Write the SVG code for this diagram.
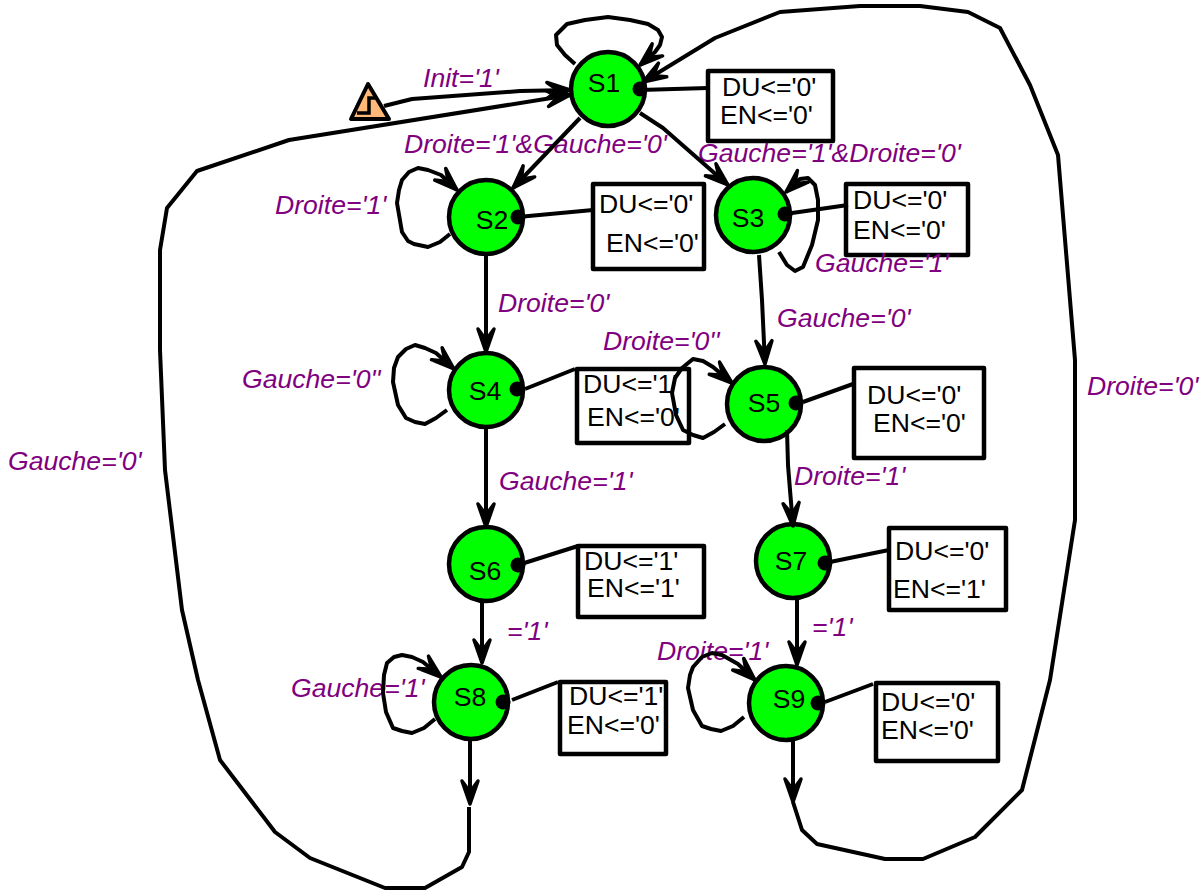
<svg xmlns="http://www.w3.org/2000/svg" width="1201" height="892" viewBox="0 0 1201 892">
<style>
text{font-family:"Liberation Sans",Arial,sans-serif;font-size:26.6px}
.st{fill:#00ff00;stroke:#000;stroke-width:4.5}
.dot{fill:#000}
.box{fill:#fff;stroke:#000;stroke-width:4.5;stroke-linejoin:round}
.lb{fill:#800080;font-style:italic}
.c{fill:none;stroke:#000;stroke-width:4;stroke-linejoin:round;stroke-linecap:butt}
.a{marker-end:url(#ah)}
</style>
<defs>
<marker id="ah" markerUnits="userSpaceOnUse" markerWidth="30" markerHeight="26" refX="25" refY="13" orient="auto" overflow="visible">
<path d="M2,5 L25,13 L2,21 L13,13Z" fill="#000" stroke="#000" stroke-width="3.5" stroke-linejoin="round"/>
</marker>
</defs>
<g id="init"><path d="M368,84 L351,119 L389,119Z" fill="#ffb878" stroke="#000" stroke-width="4" stroke-linejoin="round"/><path d="M357,113 H369 V98 H375" fill="none" stroke="#000" stroke-width="3.5"/></g>
<g id="S1"><circle class="st" cx="608" cy="89" r="37"/><circle class="dot" cx="640" cy="89" r="7.5"/><text x="604" y="92" text-anchor="middle">S1</text></g>
<g id="S2"><circle class="st" cx="486" cy="217" r="37"/><circle class="dot" cx="518" cy="217" r="7.5"/><text x="492" y="229" text-anchor="middle">S2</text></g>
<g id="S3"><circle class="st" cx="753" cy="215" r="37"/><circle class="dot" cx="785" cy="214" r="7.5"/><text x="748" y="227" text-anchor="middle">S3</text></g>
<g id="S4"><circle class="st" cx="486" cy="390" r="37"/><circle class="dot" cx="517" cy="389" r="7.5"/><text x="485" y="400" text-anchor="middle">S4</text></g>
<g id="S5"><circle class="st" cx="764" cy="404" r="37"/><circle class="dot" cx="796" cy="403" r="7.5"/><text x="764" y="412" text-anchor="middle">S5</text></g>
<g id="S6"><circle class="st" cx="486" cy="564" r="37"/><circle class="dot" cx="518" cy="565" r="7.5"/><text x="485" y="580" text-anchor="middle">S6</text></g>
<g id="S7"><circle class="st" cx="793" cy="561" r="37"/><circle class="dot" cx="825" cy="563" r="7.5"/><text x="791" y="570" text-anchor="middle">S7</text></g>
<g id="S8"><circle class="st" cx="471" cy="702" r="37"/><circle class="dot" cx="503" cy="702" r="7.5"/><text x="470" y="706" text-anchor="middle">S8</text></g>
<g id="S9"><circle class="st" cx="786" cy="703" r="37"/><circle class="dot" cx="818" cy="703" r="7.5"/><text x="789" y="708" text-anchor="middle">S9</text></g>
<g id="out1"><rect class="box" x="708" y="71" width="125" height="70"/><text x="722" y="96">DU&lt;='0'</text><text x="720" y="124">EN&lt;='0'</text></g>
<g id="out2"><rect class="box" x="593" y="184" width="111" height="85"/><text x="599" y="213">DU&lt;='0'</text><text x="606" y="252">EN&lt;='0'</text></g>
<g id="out3"><rect class="box" x="846" y="184" width="122" height="71"/><text x="853" y="209">DU&lt;='0'</text><text x="853" y="239">EN&lt;='0'</text></g>
<g id="out4"><rect class="box" x="577" y="369" width="112" height="74"/><text x="583" y="393">DU&lt;='1'</text><text x="587" y="426">EN&lt;='0'</text></g>
<g id="out5"><rect class="box" x="854" y="368" width="130" height="90"/><text x="867" y="404">DU&lt;='0'</text><text x="873" y="432">EN&lt;='0'</text></g>
<g id="out6"><rect class="box" x="578" y="546" width="126" height="71"/><text x="584" y="570">DU&lt;='1'</text><text x="587" y="597">EN&lt;='1'</text></g>
<g id="out7"><rect class="box" x="889" y="528" width="117" height="82"/><text x="895" y="560">DU&lt;='0'</text><text x="893" y="598">EN&lt;='1'</text></g>
<g id="out8"><rect class="box" x="560" y="682" width="106" height="72"/><text x="569" y="705">DU&lt;='1'</text><text x="567" y="734">EN&lt;='0'</text></g>
<g id="out9"><rect class="box" x="876" y="683" width="122" height="78"/><text x="881" y="711">DU&lt;='0'</text><text x="881" y="739">EN&lt;='0'</text></g>
<g id="labels">
<text class="lb" x="423" y="87">Init='1'</text>
<text class="lb" x="404" y="153">Droite='1'&amp;Gauche='0'</text>
<text class="lb" x="698" y="162">Gauche='1'&amp;Droite='0'</text>
<text class="lb" x="275" y="214">Droite='1'</text>
<text class="lb" x="815" y="272">Gauche='1'</text>
<text class="lb" x="498" y="312">Droite='0'</text>
<text class="lb" x="777" y="327">Gauche='0'</text>
<text class="lb" x="603" y="350">Droite='0''</text>
<text class="lb" x="242" y="388">Gauche='0''</text>
<text class="lb" x="1087" y="395">Droite='0'</text>
<text class="lb" x="8" y="470">Gauche='0'</text>
<text class="lb" x="499" y="490">Gauche='1'</text>
<text class="lb" x="794" y="485">Droite='1'</text>
<text class="lb" x="507" y="640">='1'</text>
<text class="lb" x="812" y="636">='1'</text>
<text class="lb" x="657" y="660">Droite='1'</text>
<text class="lb" x="291" y="697">Gauche='1'</text>
</g>
<g id="connectors">
<path class="c a" d="M384,106 L412,99 L520,91 L570,90"/>
<path class="c a" d="M469,807 V852 L462,867 L425,888 H385 L310,858 L275,832 L220,760 L198,680 L182,610 L165,470 L160,350 V250 L167,208 L197,171 L289,140 L570,95"/>
<path class="c a" d="M793,802 L802,830 L817,844 L885,859 H923 L975,837 L1022,790 L1050,680 L1075,520 V360 L1058,155 L1030,85 L1000,28 L968,12 L920,6 H860 L780,12 L715,38 L643,82"/>
<path class="c a" d="M575,64 L565,55 L557,45 L556,35 L567,24 L585,20 L608,17 L630,20 L648,24 L658,30 L662,37 L660,45 L655,52 L640,65"/>
<path class="c a" d="M580,118 L513,188"/>
<path class="c a" d="M640,113 L663,128 L728,185"/>
<path class="c a" d="M450,234 L440,242 L428,247 L414,244 L408,241 L402,232 L397,203 L399,190 L402,180 L409,172 L418,168 L428,170 L441,175 L457,190"/>
<path class="c a" d="M779,252 L787,265 L795,271 L803,267 L812,245 L818,220 L818,200 L815,185 L808,178 L800,179 L786,192"/>
<path class="c a" d="M759,255 L762,300 L765,364"/>
<path class="c a" d="M486,255 V352"/>
<path class="c a" d="M447,410 L436,418 L425,424 L415,422 L406,418 L398,405 L393,382 L394,368 L398,357 L406,349 L415,345 L425,348 L436,353 L454,369"/>
<path class="c a" d="M725,424 L714,432 L703,438 L693,435 L683,430 L676,415 L672,393 L675,378 L682,368 L693,359 L703,361 L713,367 L732,383"/>
<path class="c a" d="M486,428 V527"/>
<path class="c a" d="M787,430 L788,465 L790,490 L793,526"/>
<path class="c a" d="M482,602 V663"/>
<path class="c a" d="M797,600 V665"/>
<path class="c a" d="M435,719 L424,728 L412,733 L402,731 L393,728 L386,712 L383,693 L384,675 L387,663 L394,657 L402,655 L412,657 L423,662 L441,677"/>
<path class="c a" d="M744,717 L733,726 L721,731 L711,729 L702,726 L693,710 L688,688 L690,675 L693,667 L702,657 L712,653 L722,655 L738,664 L755,680"/>
<path class="c a" d="M470,740 V804"/>
<path class="c a" d="M793,738 V802"/>
<path class="c" d="M640,90 L708,88"/>
<path class="c" d="M518,217 L593,210"/>
<path class="c" d="M785,214 L848,205"/>
<path class="c" d="M525,389 L575,369"/>
<path class="c" d="M803,402 L853,384"/>
<path class="c" d="M518,565 L578,546"/>
<path class="c" d="M825,563 L889,550"/>
<path class="c" d="M512,700 L558,682"/>
<path class="c" d="M825,702 L873,684"/>
</g>
</svg>
